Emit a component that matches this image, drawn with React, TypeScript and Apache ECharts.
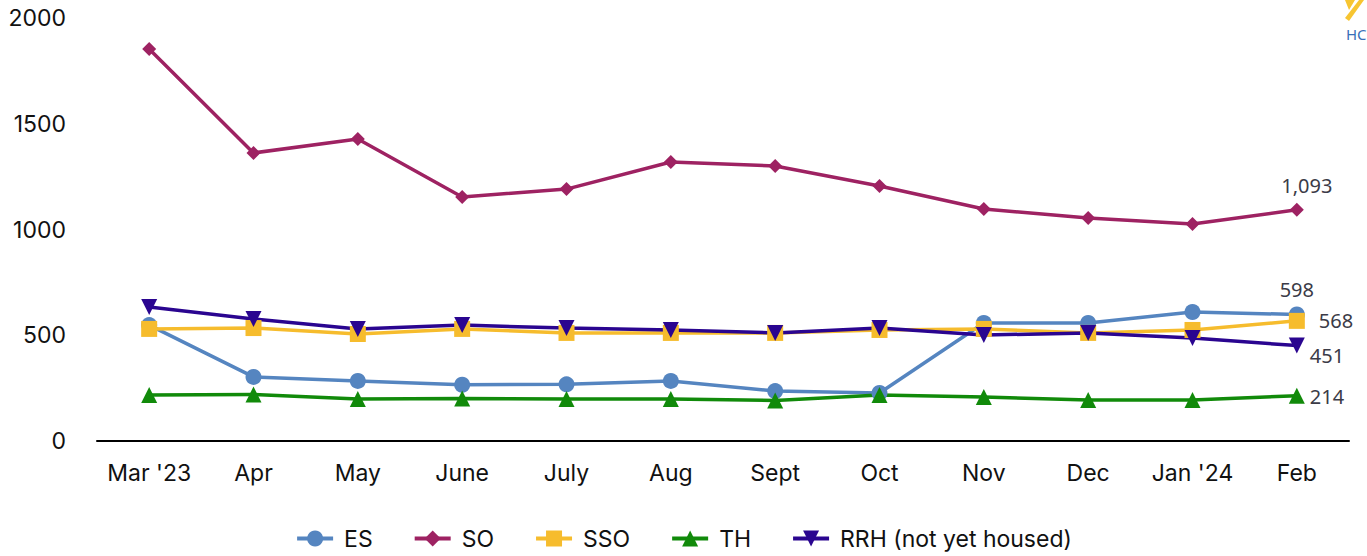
import React, { useEffect, useRef } from "react";
import * as echarts from "echarts";

const months = ["Mar '23", "Apr", "May", "June", "July", "Aug", "Sept", "Oct", "Nov", "Dec", "Jan '24", "Feb"];
const esValues = [548, 303, 284, 266, 268, 284, 236, 227, 558, 558, 610, 598];
const soValues = [1853, 1362, 1428, 1154, 1191, 1319, 1300, 1206, 1097, 1054, 1026, 1093];
const ssoValues = [530, 534, 506, 530, 511, 511, 511, 525, 530, 511, 525, 568];
const thValues = [217, 220, 199, 201, 199, 199, 192, 217, 208, 194, 194, 214];
const rrhValues = [634, 577, 530, 548, 534, 525, 511, 534, 501, 511, 487, 451];
const yTicks = [0, 500, 1000, 1500, 2000];
const legendNames = ["ES", "SO", "SSO", "TH", "RRH (not yet housed)"];

const labelFont = "'Noto Sans', 'Open Sans', sans-serif";
const axisFont = "Inter, 'Noto Sans', sans-serif";

function withLastLabel(values: number[], position: any, offset: number[]) {
  return values.map((v, i) =>
    i === values.length - 1
      ? {
          value: v,
          label: {
            show: true,
            position,
            offset,
            formatter: (p: any) => Number(p.value).toLocaleString("en-US"),
            fontFamily: labelFont,
            fontSize: 20,
            color: "#3b3b47",
          },
        }
      : v
  );
}

export default function App() {
  const ref = useRef<HTMLDivElement>(null);
  useEffect(() => {
    document.body.style.margin = "0";
    const chart = echarts.init(ref.current!, null, { renderer: "svg" });
    const mk = (name: string, data: any[], color: string, symbol: string, size: number) => ({
      name,
      type: "line",
      data,
      symbol,
      symbolSize: size,
      lineStyle: { width: 3.5, color },
      itemStyle: { color },
      emphasis: { disabled: true },
    });
    chart.setOption({
      animation: false,
      textStyle: { fontFamily: axisFont },
      grid: { left: 97, right: 18, top: 18, bottom: 115, containLabel: false },
      xAxis: {
        type: "category",
        data: months,
        boundaryGap: true,
        axisLine: { lineStyle: { color: "#000", width: 2 } },
        axisTick: { show: false },
        axisLabel: { fontSize: 23, color: "#111", margin: 20, interval: 0, fontFamily: axisFont },
        splitLine: { show: false },
      },
      yAxis: {
        type: "value",
        min: yTicks[0],
        max: yTicks[yTicks.length - 1],
        interval: 500,
        axisLine: { show: false },
        axisTick: { show: false },
        splitLine: { show: false },
        axisLabel: { fontSize: 23, color: "#111", margin: 31, fontFamily: axisFont, formatter: (v: number) => String(v) },
      },
      legend: {
        bottom: 1,
        left: "center",
        itemWidth: 36,
        itemHeight: 20,
        itemGap: 40,
        lineStyle: { width: 4 },
        textStyle: { fontSize: 23, color: "#111", fontFamily: axisFont, padding: [0, 0, 0, 6] },
        data: legendNames.map((n) => ({ name: n, lineStyle: { width: 4 } })),
      },
      graphic: [
        {
          type: "polygon",
          shape: { points: [[1345, 0], [1355, 0], [1349, 10]] },
          style: { fill: "#f7c531" },
        },
        {
          type: "polygon",
          shape: { points: [[1359, 0], [1364, 0], [1349, 21], [1345, 18]] },
          style: { fill: "#f7c531" },
        },
        {
          type: "text",
          x: 1346,
          y: 26,
          style: { text: "HC", fontSize: 15, fill: "#3a6fb8", fontFamily: labelFont },
        },
      ],
      series: [
        mk(legendNames[0], withLastLabel(esValues, "top", [0, -2]), "#5585c0", "circle", 16),
        mk(legendNames[1], withLastLabel(soValues, "top", [10, -2]), "#9e2262", "diamond", 14),
        mk(legendNames[2], withLastLabel(ssoValues, "right", [9, 0]), "#f6bc2d", "rect", 16),
        mk(legendNames[3], withLastLabel(thValues, "right", [0, 1]), "#118a0a", "triangle", 16),
        mk(legendNames[4], withLastLabel(rrhValues, "right", [0, 10]), "#2a0590", "path://M0,0 L10,0 L5,10 Z", 16),
      ],
    });
    return () => chart.dispose();
  }, []);
  return <div ref={ref} style={{ width: 1367, height: 556 }} />;
}
